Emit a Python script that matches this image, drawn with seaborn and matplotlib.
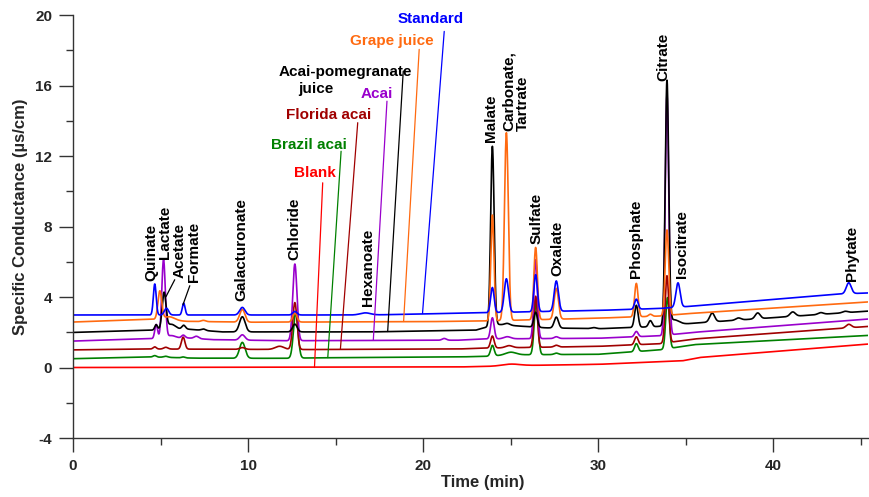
import numpy as np
import pandas as pd
import matplotlib
matplotlib.use("Agg")
import matplotlib.pyplot as plt
import seaborn as sns
from matplotlib.ticker import MultipleLocator, FixedLocator

# ---------------------------------------------------------------------------
# Samples (drawing order: bottom trace first)
samples = ["Blank", "Brazil acai", "Florida acai", "Acai",
           "Acai-pomegranate juice", "Grape juice", "Standard"]
colors = ["#FF0000", "#008000", "#A00000", "#9900CC",
          "#000000", "#FF6A10", "#0000FF"]

# Baseline knots: time (min) and signal (µS/cm)
blank_base_t = [0, 22, 24.5, 26, 30, 34.8, 35.8, 45.4]
blank_base_y = [0.0, 0.03, 0.08, 0.12, 0.18, 0.38, 0.57, 1.33]
brazil_base_t = [0, 4.5, 7, 12, 14, 22, 23.5, 25, 30, 33.5, 35.5, 45.4]
brazil_base_y = [0.5, 0.6, 0.53, 0.52, 0.55, 0.6, 0.63, 0.72, 0.75, 1.0, 1.3, 1.82]
florida_base_t = [0, 4.5, 10, 13.5, 22, 23.5, 30, 33.5, 35.5, 45.4]
florida_base_y = [1.0, 1.05, 1.03, 1.02, 1.05, 1.1, 1.2, 1.35, 1.62, 2.33]
acai_base_t = [0, 4.5, 6.5, 8, 12, 22, 23.5, 30, 33.5, 35.5, 45.4]
acai_base_y = [1.5, 1.64, 1.68, 1.58, 1.52, 1.55, 1.62, 1.66, 1.8, 2.0, 2.75]
acaipom_base_t = [0, 4.5, 6.5, 8.5, 17, 23, 24.2, 25.5, 27, 30, 33.5, 35.5, 45.4]
acaipom_base_y = [1.99, 2.12, 2.18, 2.02, 2.02, 2.12, 2.45, 2.35, 2.25, 2.2, 2.33, 2.52, 3.2]
grape_base_t = [0, 4.5, 6.5, 10, 20, 23.5, 28, 30, 33.5, 35, 45.4]
grape_base_y = [2.58, 2.74, 2.62, 2.57, 2.6, 2.64, 2.75, 2.8, 2.92, 3.05, 3.72]
standard_base_t = [0, 17, 22, 30, 33.5, 35.2, 43.8, 45.4]
standard_base_y = [2.98, 2.98, 3.08, 3.24, 3.35, 3.47, 4.17, 4.23]

# Peak tables: retention time (min), height (µS/cm), width (sigma, min)
blank_rt = [25.0]
blank_h = [0.1]
blank_w = [0.5]

brazil_rt = [4.67, 5.3, 6.29, 9.67, 12.72, 23.95, 25.0, 26.45, 27.6, 32.17, 33.95]
brazil_h = [0.08, 0.06, 0.05, 0.9, 2.58, 0.6, 0.15, 3.0, 0.08, 0.45, 2.9]
brazil_w = [0.09, 0.12, 0.09, 0.16, 0.13, 0.1, 0.3, 0.11, 0.12, 0.1, 0.1]

florida_rt = [4.67, 5.3, 6.29, 9.67, 11.8, 12.67, 23.95, 24.9, 26.42, 27.6, 32.17, 33.92, 44.3]
florida_h = [0.12, 0.1, 0.68, 0.1, 0.18, 2.66, 0.68, 0.12, 2.9, 0.1, 0.45, 3.8, 0.2]
florida_w = [0.09, 0.12, 0.1, 0.15, 0.25, 0.12, 0.1, 0.2, 0.1, 0.12, 0.1, 0.1, 0.15]

acai_rt = [4.75, 5.17, 5.6, 6.3, 7.05, 9.67, 12.67, 21.2, 23.95, 24.8, 26.42, 27.6, 32.17, 33.92]
acai_h = [0.8, 4.45, 0.15, 0.16, 0.13, 0.3, 4.35, 0.1, 1.2, 0.12, 4.48, 0.1, 0.3, 13.6]
acai_w = [0.08, 0.1, 0.25, 0.1, 0.13, 0.15, 0.12, 0.12, 0.1, 0.2, 0.1, 0.12, 0.1, 0.1]

acaipom_rt = [4.75, 5.2, 5.6, 6.32, 7.45, 9.67, 12.67, 23.95, 24.8, 26.42, 27.6, 29.75,
              32.17, 32.97, 33.92, 34.3, 36.5, 38.0, 39.1, 41.1, 42.7, 44.1]
acaipom_h = [0.3, 2.05, 0.3, 0.22, 0.08, 0.86, 0.44, 10.17, 0.1, 0.85, 0.62, 0.06,
             1.25, 0.35, 13.8, 0.3, 0.5, 0.12, 0.33, 0.25, 0.1, 0.08]
acaipom_w = [0.08, 0.11, 0.25, 0.1, 0.12, 0.16, 0.13, 0.1, 0.15, 0.1, 0.12, 0.15,
             0.1, 0.1, 0.1, 0.3, 0.14, 0.15, 0.14, 0.15, 0.15, 0.15]

grape_rt = [4.96, 5.5, 7.45, 9.67, 12.67, 23.95, 24.75, 26.42, 27.6, 32.17, 32.97, 33.92]
grape_h = [1.6, 0.2, 0.07, 0.72, 0.52, 6.0, 10.65, 4.1, 1.75, 1.9, 0.12, 4.85]
grape_w = [0.11, 0.3, 0.12, 0.15, 0.12, 0.09, 0.11, 0.1, 0.12, 0.1, 0.1, 0.1]

standard_rt = [4.67, 5.34, 6.32, 9.67, 12.67, 16.7, 23.95, 24.75, 26.42, 27.6, 32.17, 34.55, 44.3]
standard_h = [1.76, 0.38, 0.67, 0.43, 0.2, 0.12, 1.42, 1.9, 2.1, 1.72, 0.57, 1.38, 0.62]
standard_w = [0.08, 0.12, 0.08, 0.15, 0.12, 0.3, 0.1, 0.12, 0.1, 0.12, 0.1, 0.12, 0.14]

# Peak identifications
peak_names = ["Quinate", "Lactate", "Acetate", "Formate", "Galacturonate", "Chloride",
              "Hexanoate", "Malate", "Carbonate,\nTartrate", "Sulfate", "Oxalate",
              "Phosphate", "Citrate", "Isocitrate", "Phytate"]

# ---------------------------------------------------------------------------
# Build traces from baseline + peak tables
time = np.linspace(0, 45.4, 4541)

tables = [
    (blank_base_t, blank_base_y, blank_rt, blank_h, blank_w),
    (brazil_base_t, brazil_base_y, brazil_rt, brazil_h, brazil_w),
    (florida_base_t, florida_base_y, florida_rt, florida_h, florida_w),
    (acai_base_t, acai_base_y, acai_rt, acai_h, acai_w),
    (acaipom_base_t, acaipom_base_y, acaipom_rt, acaipom_h, acaipom_w),
    (grape_base_t, grape_base_y, grape_rt, grape_h, grape_w),
    (standard_base_t, standard_base_y, standard_rt, standard_h, standard_w),
]

frames = []
for name, (bt, by, rt, h, w) in zip(samples, tables):
    sig = np.interp(time, bt, by)
    for r, a, s in zip(rt, h, w):
        sig = sig + a * np.exp(-0.5 * ((time - r) / s) ** 2)
    frames.append(pd.DataFrame({"Time": time, "Signal": sig, "Sample": name}))
df = pd.concat(frames, ignore_index=True)

# ---------------------------------------------------------------------------
sns.set_theme(style="ticks")
plt.rcParams["font.family"] = ["Liberation Sans", "DejaVu Sans"]
plt.rcParams["font.weight"] = "bold"
plt.rcParams["axes.labelweight"] = "bold"
plt.rcParams["axes.unicode_minus"] = False

fig = plt.figure(figsize=(8.7, 4.97), dpi=100)
ax = fig.add_axes([0.0839, 0.1187, 0.9138, 0.8511])

sns.lineplot(data=df, x="Time", y="Signal", hue="Sample", hue_order=samples,
             palette=dict(zip(samples, colors)), estimator=None, sort=False,
             linewidth=1.2, legend=False, ax=ax)

ax.set_xlim(0, 45.4)
ax.set_ylim(-4, 20)
ax.xaxis.set_major_locator(FixedLocator([0, 10, 20, 30, 40]))
ax.xaxis.set_minor_locator(MultipleLocator(5))
ax.yaxis.set_major_locator(MultipleLocator(4))
ax.yaxis.set_minor_locator(MultipleLocator(2))
ax.tick_params(which="major", length=10, width=1.0, direction="out",
               labelsize=11, color="#333333", pad=5)
ax.tick_params(which="minor", length=5, width=1.0, direction="out", color="#333333")
for lab in ax.get_xticklabels() + ax.get_yticklabels():
    lab.set_fontweight("bold")

sns.despine(ax=ax)
for sp in ("left", "bottom"):
    ax.spines[sp].set_linewidth(1.0)
    ax.spines[sp].set_color("#333333")

ax.set_xlabel("Time (min)", fontsize=12, fontweight="bold")
ax.set_ylabel("Specific Conductance (µs/cm)", fontsize=12, fontweight="bold")
ax.xaxis.set_label_coords(0.516, -0.087)
ax.yaxis.set_label_coords(-0.057, 0.524)

# Peak labels (rotated), anchored at the bottom centre of the text
peak_label_pos = [(4.48, 4.89), (5.24, 6.16), (6.10, 5.08), (6.89, 4.83), (9.61, 3.75),
                  (12.65, 6.12), (16.83, 3.47), (23.86, 12.78), (25.28, 13.41),
                  (26.46, 7.03), (27.65, 5.17), (32.17, 5.08), (33.70, 16.25),
                  (34.78, 5.08), (44.50, 4.89)]
for name, (px, py) in zip(peak_names, peak_label_pos):
    ax.text(px, py, name, rotation=90, ha="center", va="bottom", fontsize=11,
            fontweight="bold", color="black", multialignment="left",
            linespacing=1.0)

# leader lines for Acetate and Formate
ax.plot([5.81, 5.30], [4.98, 4.0], color="black", lw=0.9)
ax.plot([6.67, 6.28], [4.64, 3.56], color="black", lw=0.9)

# Sample labels with leader lines to each trace
sample_text_pos = [(13.79, 11.05), (13.48, 12.61), (14.58, 14.32), (17.35, 15.53),
                   (15.56, 16.76), (18.22, 18.52), (20.43, 19.76)]
sample_line = [((14.26, 10.48), (13.79, 0.0)),
               ((15.31, 12.27), (14.55, 0.56)),
               ((16.26, 13.89), (15.27, 1.03)),
               ((17.93, 15.11), (17.15, 1.55)),
               ((18.86, 16.82), (17.97, 2.04)),
               ((19.77, 18.05), (18.88, 2.61)),
               ((21.20, 19.07), (19.96, 3.06))]
sample_text = ["Blank", "Brazil acai", "Florida acai", "Acai", "Acai-pomegranate",
               "Grape juice", "Standard"]
for txt, (tx, ty), ((x0, y0), (x1, y1)), c in zip(sample_text, sample_text_pos,
                                                   sample_line, colors):
    ax.text(tx, ty, txt, ha="center", va="center", fontsize=11, fontweight="bold",
            color=c)
    ax.plot([x0, x1], [y0, y1], color=c, lw=0.9)
ax.text(13.87, 15.78, "juice", ha="center", va="center", fontsize=11,
        fontweight="bold", color="black")

fig.savefig("out.png", dpi=100)
